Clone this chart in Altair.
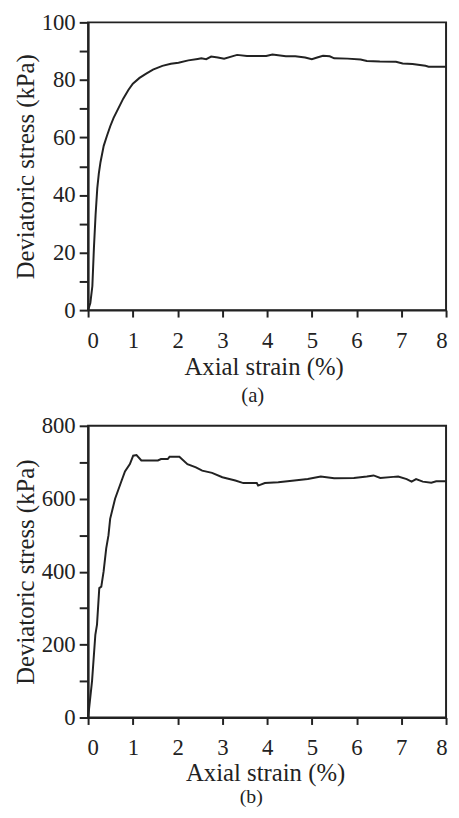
import altair as alt
import pandas as pd

# Panel (a)
strain_a = [0, 0.05, 0.095, 0.131, 0.168, 0.205, 0.24, 0.277, 0.349, 0.42, 0.495, 0.57, 0.64,
            0.785, 0.9, 1.0, 1.15, 1.29, 1.45, 1.66, 1.85, 2.02, 2.24, 2.45, 2.53, 2.64, 2.75,
            2.9, 3.04, 3.33, 3.55, 3.98, 4.12, 4.42, 4.63, 4.85, 5.0, 5.12, 5.25, 5.4, 5.5, 5.8,
            6.09, 6.23, 6.52, 6.88, 7.03, 7.25, 7.54, 7.61, 7.94, 8.0]
stress_a = [0, 2.5, 8.3, 21.9, 33.3, 42.3, 47.5, 51.4, 57.1, 60.5, 63.9, 66.8, 69.0,
            73.5, 76.5, 78.7, 80.7, 82.1, 83.6, 84.9, 85.6, 86.0, 86.8, 87.3, 87.5, 87.2, 88.1,
            87.8, 87.4, 88.7, 88.3, 88.3, 88.8, 88.2, 88.2, 87.8, 87.2, 87.8, 88.4, 88.2, 87.5, 87.4,
            87.1, 86.6, 86.4, 86.3, 85.7, 85.5, 84.9, 84.6, 84.6, 84.6]

# Panel (b)
strain_b = [0, 0.088, 0.162, 0.199, 0.25, 0.295, 0.346, 0.405, 0.456, 0.493, 0.603, 0.75, 0.824,
            0.934, 1.008, 1.082, 1.19, 1.56, 1.63, 1.78, 1.82, 2.04, 2.22, 2.41, 2.55, 2.77, 3.0,
            3.29, 3.47, 3.77, 3.80, 3.95, 4.25, 4.61, 4.91, 5.2, 5.5, 5.94, 6.23, 6.38, 6.53, 6.82,
            6.93, 7.12, 7.23, 7.33, 7.48, 7.67, 7.78, 8.0]
stress_b = [0, 100, 227, 255, 355, 359, 400, 464, 500, 545, 600, 650, 675,
            695, 718, 720, 705, 705, 709, 709, 715, 715, 695, 686, 677, 671, 659,
            650, 643, 643, 636, 643, 645, 650, 654, 661, 656, 657, 661, 664, 657, 660,
            661, 654, 647, 654, 647, 644, 648, 648]

x_ticks = [0, 1, 2, 3, 4, 5, 6, 7, 8]
y_ticks_a = list(range(0, 101, 10))
y_ticks_b = list(range(0, 801, 100))

FONT = "Liberation Serif"
INK = "#222222"


def panel(strain, stress, ymax, yticks, label_step, caption, w, h,
          cap_size, cap_dx, cap_offset, xtitle_x, xlabel_pad, xtitle_pad):
    df = pd.DataFrame({"strain": strain, "stress": stress})
    return alt.Chart(df, title=alt.TitleParams(
        caption, orient="bottom", font=FONT, fontSize=cap_size, fontWeight="normal",
        color=INK, offset=cap_offset, dx=cap_dx)).mark_line(
        color=INK, strokeWidth=2).encode(
        x=alt.X("strain:Q", scale=alt.Scale(domain=[0, 8], nice=False),
                axis=alt.Axis(values=x_ticks, title="Axial strain (%)", titleX=xtitle_x,
                              labelFlush=True, labelFlushOffset=1,
                              labelPadding=xlabel_pad, titlePadding=xtitle_pad)),
        y=alt.Y("stress:Q", scale=alt.Scale(domain=[0, ymax], nice=False),
                axis=alt.Axis(values=yticks, title="Deviatoric stress (kPa)",
                              labelExpr=f"datum.value % {label_step} == 0 ? datum.label : ''",
                              tickSize=9, labelPadding=4, titlePadding=3)),
        order=alt.Order("strain:Q"),
    ).properties(width=w, height=h)


pa = panel(strain_a, stress_a, 100, y_ticks_a, 20, "(a)", 362, 291,
           21, -14.5, 6, 177.5, 13, 2)
pb = panel(strain_b, stress_b, 800, y_ticks_b, 200, "(b)", 362, 295,
           20, -16, 1, 179, 12, 2)

chart = alt.vconcat(pa, pb, spacing=7).properties(
    padding={"left": 4, "top": -2, "right": 0, "bottom": 0}
).configure_view(stroke=INK, strokeWidth=2).configure_axis(
    grid=False, domainColor=INK, domainWidth=2, tickColor=INK, tickWidth=2, tickSize=7,
    labelFont=FONT, labelFontSize=23, labelColor=INK,
    titleFont=FONT, titleFontSize=25, titleFontWeight="normal", titleColor=INK,
).configure_concat(spacing=7)

chart.save("out.html", embed_options={"renderer": "svg", "actions": False})
